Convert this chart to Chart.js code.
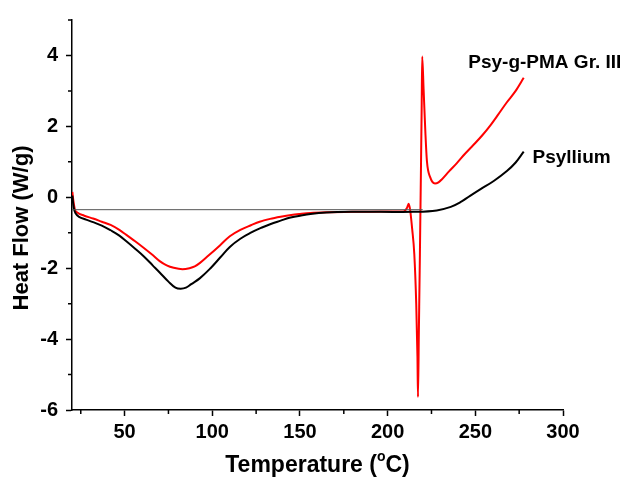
<!DOCTYPE html>
<html lang="en">
<head>
    <meta charset="UTF-8">
    <title>DSC</title>
    <script src="https://cdn.jsdelivr.net/npm/chart.js@4.4.0/dist/chart.umd.min.js"></script>
    <style>
        body {
            margin: 0;
            background: #fff;
        }
        .chart-container {
            position: relative;
            width: 634px;
            height: 481px;
        }
    </style>
</head>
<body>

<div class="chart-container">
    <canvas id="chart"></canvas>
</div>

<script>

// Psyllium (black)
var psylliumTemp = [20.2, 21, 22, 24, 28, 32, 37, 42, 47, 51, 56, 61, 66, 70, 75, 79, 82, 85, 88, 93, 99, 104.5, 110, 116, 122, 128, 133, 139, 144, 150, 156, 165, 180, 196, 215, 228, 236, 241.5, 247, 253, 260.5, 268, 273, 277.6];
var psylliumFlow = [0.05, -0.3, -0.45, -0.55, -0.63, -0.7, -0.8, -0.93, -1.08, -1.24, -1.45, -1.67, -1.92, -2.12, -2.38, -2.55, -2.58, -2.55, -2.45, -2.28, -2.0, -1.7, -1.4, -1.17, -1.0, -0.86, -0.76, -0.66, -0.58, -0.52, -0.47, -0.43, -0.41, -0.41, -0.41, -0.37, -0.27, -0.14, 0.04, 0.23, 0.46, 0.74, 0.98, 1.29];

// Psy-g-PMA Gr. III (red)
var graftTemp = [20.2, 20.8, 21.7, 23, 27, 32, 37, 42, 47, 51, 56, 61, 66, 70, 74, 78, 83, 87, 90, 93, 97, 104.5, 110, 116, 122, 127, 133, 139, 145, 150, 156, 165, 180, 200, 209, 211, 212, 212.8, 214, 215.2, 216.3, 217, 217.3, 217.8, 218.4, 219, 219.4, 219.7, 220.5, 221.5, 222.4, 224.3, 227, 229, 231, 235, 239.6, 244, 249, 254, 258.6, 263, 268, 273, 277.6];
var graftFlow = [0.15, -0.1, -0.35, -0.43, -0.52, -0.6, -0.69, -0.78, -0.92, -1.06, -1.24, -1.43, -1.63, -1.8, -1.92, -1.99, -2.03, -2.0, -1.95, -1.85, -1.68, -1.35, -1.1, -0.92, -0.79, -0.69, -0.61, -0.55, -0.5, -0.47, -0.44, -0.42, -0.41, -0.4, -0.4, -0.3, -0.18, -0.35, -0.9, -1.6, -3.0, -4.5, -5.63, -3.8, -1.6, 0.8, 2.5, 3.97, 3.05, 1.85, 1.02, 0.56, 0.39, 0.42, 0.51, 0.73, 0.97, 1.22, 1.48, 1.75, 2.03, 2.33, 2.68, 3.0, 3.37];

// thin baseline
var baselineTemp = [20, 220];
var baselineFlow = [-0.35, -0.35];

var xTicks = [50, 100, 150, 200, 250, 300];
var xMinorTicks = [25, 75, 125, 175, 225, 275];
var yTicks = [-6, -4, -2, 0, 2, 4];
var yMinorTicks = [-5, -3, -1, 1, 3, 5];

var seriesLabels = ['Psy-g-PMA Gr. III', 'Psyllium'];
var labelTemp = [246, 282.6];
var labelFlow = [3.78, 1.12];

var FONT = '"Liberation Sans", Arial, sans-serif';

function toPoints(xs, ys) {
    return xs.map(function (x, i) { return { x: x, y: ys[i] }; });
}

var extras = {
    id: 'extras',
    afterDraw: function (chart) {
        var ctx = chart.ctx;
        var xs = chart.scales.x;
        var ys = chart.scales.y;
        var area = chart.chartArea;

        ctx.save();
        ctx.strokeStyle = '#000';
        ctx.lineWidth = 1.5;
        ctx.beginPath();
        xMinorTicks.forEach(function (v) {
            var px = xs.getPixelForValue(v);
            ctx.moveTo(px, area.bottom);
            ctx.lineTo(px, area.bottom + 4);
        });
        yMinorTicks.forEach(function (v) {
            var py = ys.getPixelForValue(v);
            ctx.moveTo(area.left, py);
            ctx.lineTo(area.left - 4, py);
        });
        ctx.stroke();

        // series labels
        ctx.fillStyle = '#000';
        ctx.font = 'bold 19px ' + FONT;
        ctx.textAlign = 'left';
        ctx.textBaseline = 'middle';
        seriesLabels.forEach(function (t, i) {
            ctx.fillText(t, xs.getPixelForValue(labelTemp[i]), ys.getPixelForValue(labelFlow[i]));
        });

        // x title with superscript o
        var cx = (area.left + area.right) / 2;
        var ty = 466;
        ctx.font = 'bold 23px ' + FONT;
        var p1 = 'Temperature (', p3 = 'C)';
        var w1 = ctx.measureText(p1).width;
        var w3 = ctx.measureText(p3).width;
        ctx.font = 'bold 14px ' + FONT;
        var w2 = ctx.measureText('o').width;
        var x0 = cx - (w1 + w2 + w3) / 2;
        ctx.font = 'bold 23px ' + FONT;
        ctx.fillText(p1, x0, ty);
        ctx.fillText(p3, x0 + w1 + w2, ty);
        ctx.font = 'bold 14px ' + FONT;
        ctx.fillText('o', x0 + w1, ty - 9);

        // y title
        ctx.translate(22, 228);
        ctx.rotate(-Math.PI / 2);
        ctx.font = 'bold 22px ' + FONT;
        ctx.textAlign = 'center';
        ctx.fillText('Heat Flow (W/g)', 0, 0);
        ctx.restore();
    }
};

var ctx = document.getElementById('chart').getContext('2d');

var chart = new Chart(ctx, {
    type: 'line',
    data: {
        datasets: [
            {
                label: 'baseline',
                data: toPoints(baselineTemp, baselineFlow),
                borderColor: '#555',
                borderWidth: 1,
                pointRadius: 0,
                tension: 0,
            },
            {
                label: 'Psyllium',
                data: toPoints(psylliumTemp, psylliumFlow),
                borderColor: '#000',
                borderWidth: 2,
                pointRadius: 0,
                tension: 0.4,
            },
            {
                label: 'Psy-g-PMA Gr. III',
                data: toPoints(graftTemp, graftFlow),
                borderColor: '#ff0000',
                borderWidth: 2,
                pointRadius: 0,
                cubicInterpolationMode: 'monotone',
            },
        ]
    },
    options: {
        responsive: true,
        maintainAspectRatio: false,
        animation: false,
        layout: {
            padding: { left: 0, top: 13, right: 71, bottom: 0 }
        },
        plugins: {
            legend: { display: false },
            tooltip: { enabled: false },
        },
        scales: {
            x: {
                type: 'linear',
                min: 20,
                max: 300,
                afterBuildTicks: function (s) { s.ticks = xTicks.map(function (v) { return { value: v }; }); },
                afterFit: function (s) { s.height = 71; },
                ticks: {
                    color: '#000',
                    font: { family: FONT, size: 20, weight: 'bold' },
                    padding: 4,
                    maxRotation: 0,
                    autoSkip: false,
                },
                grid: { drawOnChartArea: false, drawTicks: true, tickLength: 6, tickColor: '#000', tickWidth: 1.5 },
                border: { display: true, color: '#000', width: 1.5 },
            },
            y: {
                min: -6,
                max: 5,
                afterBuildTicks: function (s) { s.ticks = yTicks.map(function (v) { return { value: v }; }); },
                afterFit: function (s) { s.width = 72; },
                ticks: {
                    color: '#000',
                    font: { family: FONT, size: 20, weight: 'bold' },
                    padding: 8,
                    autoSkip: false,
                },
                grid: { drawOnChartArea: false, drawTicks: true, tickLength: 6, tickColor: '#000', tickWidth: 1.5 },
                border: { display: true, color: '#000', width: 1.5 },
            }
        }
    },
    plugins: [extras]
});

</script>

</body>
</html>
